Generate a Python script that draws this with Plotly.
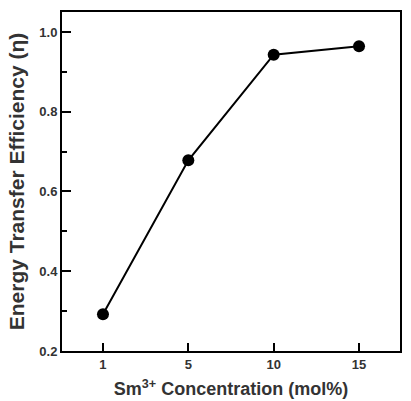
import plotly.graph_objects as go

categories = ["1", "5", "10", "15"]
efficiency = [0.292, 0.678, 0.943, 0.964]
y_ticks = [0.2, 0.4, 0.6, 0.8, 1.0]
y_ticklabels = ["0.2", "0.4", "0.6", "0.8", "1.0"]

xpos = list(range(len(categories)))
txt = "#333333"
font = dict(family="Liberation Sans, Arial, sans-serif", color=txt)

fig = go.Figure()
fig.add_trace(go.Scatter(
    x=xpos, y=efficiency, mode="lines+markers",
    line=dict(color="black", width=2),
    marker=dict(color="black", size=12),
    showlegend=False,
))

fig.update_layout(
    width=411, height=401,
    margin=dict(l=62, r=11, t=12, b=50),
    paper_bgcolor="white", plot_bgcolor="white",
    font=font,
    xaxis=dict(
        range=[-0.48, 3.48], automargin=False,
        tickvals=xpos, ticktext=["<b>%s</b>" % c for c in categories],
        ticks="inside", ticklen=8, tickwidth=2, tickcolor="black",
        showline=True, linecolor="black", linewidth=2, mirror=True,
        showgrid=False, zeroline=False,
        tickfont=dict(size=13, color=txt),
        title=dict(text="<b>Sm<sup>3+</sup> Concentration (mol%)</b>", font=dict(size=18, color=txt), standoff=12),
    ),
    yaxis=dict(
        range=[0.2, 1.05], automargin=False,
        tickvals=y_ticks, ticktext=["<b>%s</b>" % t for t in y_ticklabels],
        ticks="inside", ticklen=9, tickwidth=2, tickcolor="black",
        minor=dict(ticks="inside", ticklen=5, tickwidth=2, tickcolor="black", dtick=0.1, tick0=0.1),
        showline=True, linecolor="black", linewidth=2, mirror=True,
        showgrid=False, zeroline=False,
        tickfont=dict(size=13, color=txt),
        title=dict(text="<b>Energy Transfer Efficiency (η)</b>", font=dict(size=21, color=txt), standoff=9),
    ),
)

fig.write_html("out.html")
